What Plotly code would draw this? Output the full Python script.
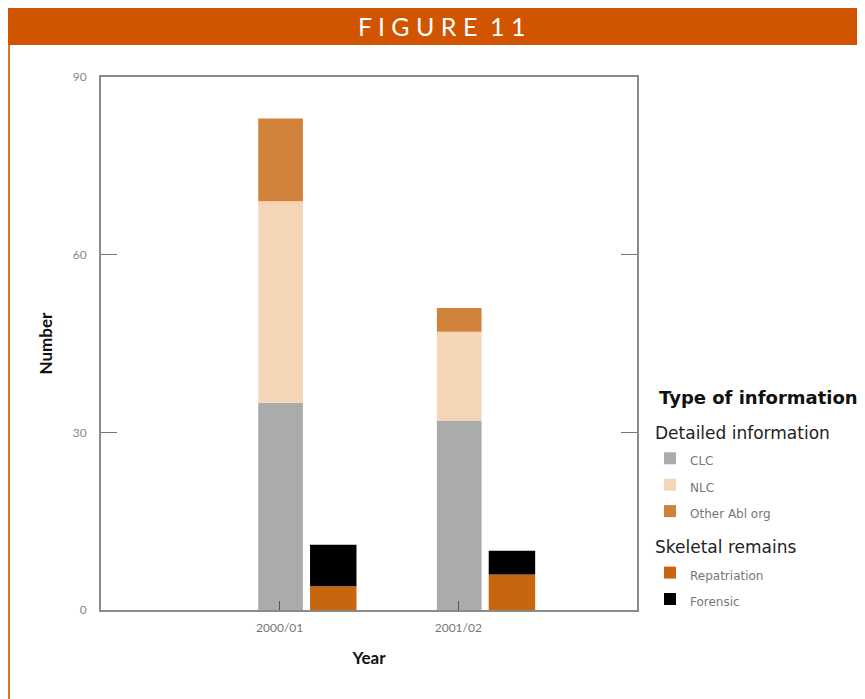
import numpy as np
import plotly.graph_objects as go

years = ["2000/01", "2001/02"]
clc = [35, 32]
nlc = [34, 15]
other_abl = [14, 4]
repatriation = [4, 6]
forensic = [7, 4]

y_ticks = [0, 30, 60, 90]

c_clc = "#ABABAB"
c_nlc = "#F4D6B6"
c_other = "#D0823A"
c_rep = "#C8660F"
c_for = "#000000"

fig = go.Figure()

b_nlc = np.array(clc)
b_other = b_nlc + np.array(nlc)
b_for = np.array(repatriation)

det_off, det_w = -0.12, 0.25
sk_off, sk_w = 0.17, 0.26

FONT = "Lato, Noto Sans"
LFONT = "DejaVu Sans"

def add(name, vals, base, color, off, w, group, gtitle):
    fig.add_trace(go.Bar(
        x=years, y=vals, base=base,
        name=f"<span style='font-size:12px'>{name}</span>",
        marker=dict(color=color, line=dict(width=0)),
        offset=off, width=w,
        legendgroup=group,
        legendgrouptitle=dict(text=gtitle, font=dict(size=17, color="#222", family=LFONT)),
        hovertext=name, hoverinfo="y+text",
    ))

add("CLC", clc, None, c_clc, det_off, det_w, "det", "Detailed information")
add("NLC", nlc, b_nlc, c_nlc, det_off, det_w, "det", "Detailed information")
add("Other Abl org", other_abl, b_other, c_other, det_off, det_w, "det", "Detailed information")
add("Repatriation", repatriation, None, c_rep, sk_off, sk_w, "sk", "Skeletal remains")
add("Forensic", forensic, b_for, c_for, sk_off, sk_w, "sk", "Skeletal remains")

# page is drawn with an 8px body offset; positions below are in screenshot pixels
OFF = 8
W, H = 865, 699
L, R, T, B = 101 - OFF, 637 - OFF, 77 - OFF, 610 - OFF
pw, ph = R - L, B - T
def px(x): return (x - OFF - L) / pw
def py(y): return (B - (y - OFF)) / ph

fig.update_layout(
    width=W, height=H,
    margin=dict(l=L, r=W - R, t=T, b=H - B, pad=0),
    paper_bgcolor="white", plot_bgcolor="white",
    barmode="overlay",
    showlegend=True,
    legend=dict(
        x=px(650), y=py(415), xanchor="left", yanchor="top",
        font=dict(size=18, color="#777", family=LFONT),
        traceorder="grouped", tracegroupgap=10,
        bgcolor="rgba(0,0,0,0)",
    ),
    font=dict(family=FONT, color="#555"),
    xaxis=dict(
        type="category", range=[-1, 2],
        showline=True, linecolor="#8a8a8a", linewidth=2, mirror=True,
        ticks="inside", ticklen=9, tickcolor="#555", tickwidth=1,
        tickfont=dict(size=12, color="#777"), ticklabelstandoff=6,
        title=dict(text="<b>Year</b>", font=dict(size=17, color="#111"), standoff=18),
        showgrid=False, zeroline=False,
    ),
    yaxis=dict(
        range=[0, 90], tickvals=y_ticks, ticktext=[str(v) for v in y_ticks],
        showline=True, linecolor="#8a8a8a", linewidth=2, mirror="ticks",
        ticks="inside", ticklen=16, tickcolor="#777", tickwidth=1,
        tickfont=dict(size=12, color="#888"), ticklabelstandoff=10,
        title=dict(text="<b>Number</b>", font=dict(size=17, color="#111"), standoff=16),
        showgrid=False, zeroline=False,
    ),
    shapes=[
        dict(type="rect", xref="paper", yref="paper",
             x0=px(8), x1=px(880), y0=py(45), y1=py(0),
             fillcolor="#D15400", line=dict(width=0), layer="below"),
        dict(type="line", xref="paper", yref="paper",
             x0=px(9), x1=px(9), y0=py(45), y1=py(720),
             line=dict(color="#D9742A", width=2)),
    ],
    annotations=[
        dict(text="F I G U R E  1 1", xref="paper", yref="paper",
             x=px(442), y=py(26), xanchor="center", yanchor="middle",
             showarrow=False, font=dict(size=25, color="white", family=FONT)),
        dict(text="<b>Type of information</b>", xref="paper", yref="paper",
             x=px(657), y=py(397), xanchor="left", yanchor="middle",
             showarrow=False, font=dict(size=18, color="#111", family=LFONT)),
    ],
)

fig.write_html("out.html")
